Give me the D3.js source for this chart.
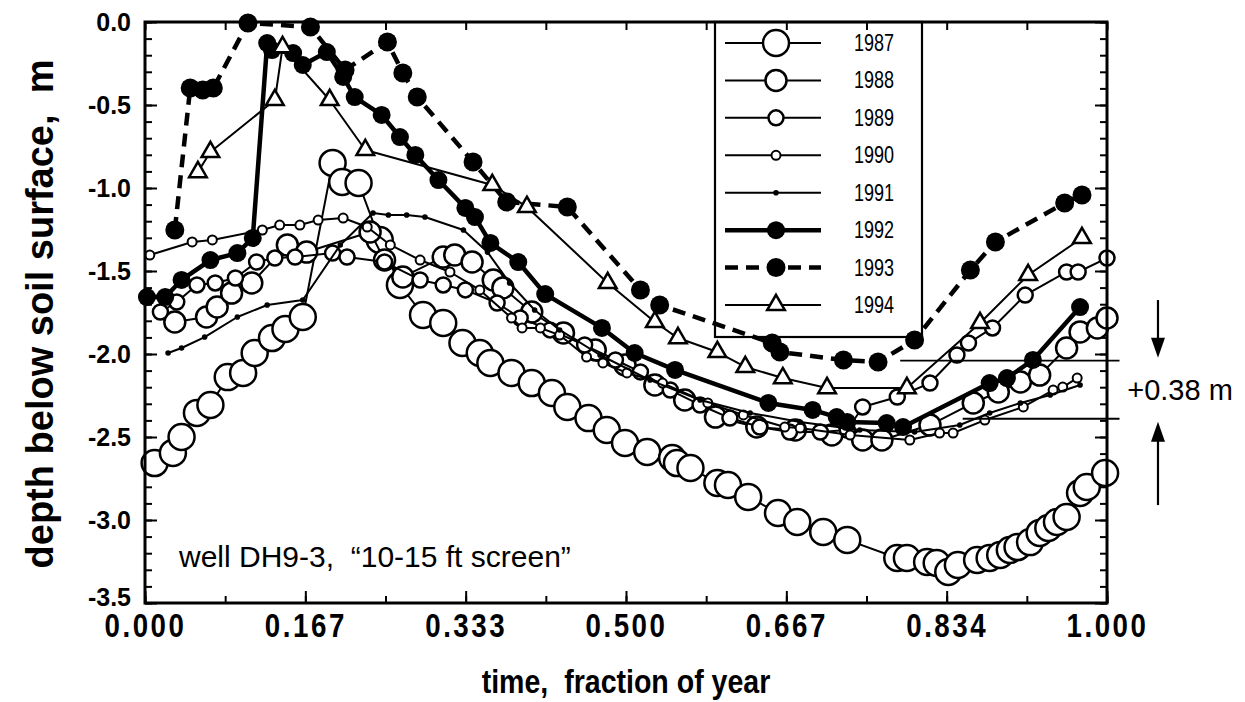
<!DOCTYPE html>
<html><head><meta charset="utf-8">
<script src="https://cdn.jsdelivr.net/npm/d3@7"></script>
<style>html,body{margin:0;padding:0;background:#fff;} svg{display:block;} text{white-space:pre;}</style>
</head><body>
<svg id="c" width="1245" height="702"></svg>
<script>
// ---------------- data ----------------
const years = ["1987","1988","1989","1990","1991","1992","1993","1994"];

const s1987 = [[0.010,-2.657],[0.029,-2.596],[0.038,-2.500],[0.054,-2.355],[0.068,-2.307],[0.086,-2.139],[0.102,-2.114],[0.114,-1.994],[0.132,-1.904],[0.146,-1.849],[0.164,-1.777],[0.195,-0.849],[0.205,-0.964],[0.222,-0.970],[0.244,-1.313],[0.265,-1.584],[0.289,-1.765],[0.310,-1.813],[0.330,-1.934],[0.348,-1.994],[0.359,-2.054],[0.381,-2.114],[0.402,-2.175],[0.423,-2.235],[0.439,-2.319],[0.461,-2.386],[0.480,-2.458],[0.499,-2.536],[0.522,-2.590],[0.548,-2.627],[0.553,-2.657],[0.567,-2.687],[0.595,-2.777],[0.606,-2.789],[0.627,-2.861],[0.658,-2.958],[0.678,-3.012],[0.705,-3.072],[0.730,-3.120],[0.782,-3.229],[0.792,-3.229],[0.813,-3.253],[0.823,-3.259],[0.835,-3.313],[0.845,-3.271],[0.865,-3.241],[0.878,-3.229],[0.889,-3.211],[0.899,-3.181],[0.907,-3.163],[0.920,-3.133],[0.930,-3.078],[0.939,-3.048],[0.948,-3.012],[0.958,-2.982],[0.972,-2.837],[0.979,-2.801],[0.998,-2.717]];

const s1988 = [[0.031,-1.807],[0.064,-1.777],[0.075,-1.717],[0.090,-1.633],[0.111,-1.572],[0.148,-1.343],[0.168,-1.386],[0.234,-1.265],[0.249,-1.434],[0.268,-1.536],[0.310,-1.416],[0.322,-1.404],[0.340,-1.446],[0.362,-1.554],[0.372,-1.602],[0.402,-1.747],[0.435,-1.873],[0.468,-1.976],[0.499,-2.066],[0.530,-2.187],[0.561,-2.277],[0.593,-2.380],[0.636,-2.440],[0.676,-2.458],[0.714,-2.488],[0.746,-2.518],[0.766,-2.518],[0.816,-2.428],[0.861,-2.295],[0.887,-2.229],[0.910,-2.169],[0.930,-2.127],[0.958,-1.964],[0.972,-1.867],[0.990,-1.843],[1.000,-1.783]];

const s1989 = [[0.016,-1.747],[0.033,-1.687],[0.054,-1.584],[0.073,-1.572],[0.094,-1.542],[0.116,-1.446],[0.135,-1.422],[0.156,-1.416],[0.195,-1.392],[0.210,-1.416],[0.249,-1.446],[0.286,-1.554],[0.310,-1.584],[0.333,-1.614],[0.366,-1.693],[0.390,-1.783],[0.421,-1.855],[0.457,-1.946],[0.489,-2.036],[0.515,-2.108],[0.546,-2.217],[0.577,-2.307],[0.608,-2.386],[0.639,-2.440],[0.670,-2.470],[0.702,-2.470],[0.730,-2.458],[0.746,-2.319],[0.782,-2.259],[0.816,-2.175],[0.844,-2.006],[0.856,-1.934],[0.881,-1.843],[0.915,-1.645],[0.958,-1.506],[0.970,-1.506],[1.000,-1.422]];

const s1990 = [[0.005,-1.404],[0.049,-1.325],[0.070,-1.313],[0.122,-1.253],[0.140,-1.223],[0.161,-1.223],[0.180,-1.193],[0.206,-1.181],[0.231,-1.235],[0.255,-1.343],[0.286,-1.434],[0.317,-1.506],[0.348,-1.614],[0.381,-1.783],[0.392,-1.843],[0.411,-1.843],[0.431,-1.886],[0.459,-2.018],[0.476,-2.054],[0.501,-2.114],[0.538,-2.175],[0.585,-2.295],[0.622,-2.367],[0.665,-2.440],[0.681,-2.446],[0.733,-2.488],[0.795,-2.518],[0.826,-2.476],[0.840,-2.476],[0.873,-2.398],[0.913,-2.319],[0.944,-2.217],[0.954,-2.199],[0.969,-2.145]];

const s1991 = [[0.024,-1.994],[0.038,-1.964],[0.062,-1.898],[0.096,-1.777],[0.127,-1.705],[0.164,-1.675],[0.203,-1.343],[0.237,-1.151],[0.253,-1.163],[0.272,-1.163],[0.291,-1.175],[0.331,-1.253],[0.356,-1.386],[0.379,-1.572],[0.405,-1.735],[0.431,-1.855],[0.473,-2.006],[0.525,-2.157],[0.577,-2.277],[0.629,-2.355],[0.681,-2.410],[0.743,-2.458],[0.800,-2.470],[0.847,-2.428],[0.878,-2.355],[0.910,-2.295],[0.941,-2.247],[0.972,-2.187]];

const s1992 = [[0.002,-1.657],[0.021,-1.657],[0.038,-1.554],[0.068,-1.434],[0.096,-1.392],[0.112,-1.301],[0.127,-0.127],[0.132,-0.169],[0.154,-0.187],[0.164,-0.259],[0.189,-0.181],[0.206,-0.331],[0.218,-0.452],[0.246,-0.560],[0.265,-0.693],[0.281,-0.801],[0.305,-0.952],[0.333,-1.120],[0.343,-1.175],[0.359,-1.331],[0.388,-1.446],[0.416,-1.639],[0.475,-1.843],[0.509,-1.994],[0.551,-2.096],[0.648,-2.295],[0.694,-2.337],[0.719,-2.380],[0.730,-2.410],[0.771,-2.416],[0.788,-2.440],[0.878,-2.175],[0.896,-2.145],[0.923,-2.036],[0.972,-1.717]];

const s1993 = [[0.031,-1.253],[0.047,-0.398],[0.060,-0.410],[0.071,-0.398],[0.107,-0.006],[0.172,-0.030],[0.208,-0.289],[0.252,-0.120],[0.268,-0.307],[0.283,-0.452],[0.341,-0.843],[0.376,-1.084],[0.439,-1.114],[0.515,-1.614],[0.535,-1.705],[0.652,-1.934],[0.660,-1.988],[0.726,-2.036],[0.762,-2.048],[0.800,-1.916],[0.858,-1.494],[0.884,-1.325],[0.956,-1.090],[0.974,-1.042]];

const s1994 = [[0.055,-0.904],[0.068,-0.783],[0.135,-0.470],[0.143,-0.151],[0.192,-0.470],[0.229,-0.771],[0.361,-0.982],[0.397,-1.114],[0.481,-1.572],[0.530,-1.807],[0.554,-1.904],[0.595,-1.988],[0.624,-2.078],[0.663,-2.145],[0.709,-2.205],[0.792,-2.205],[0.868,-1.813],[0.918,-1.524],[0.974,-1.301]];

const xTickValues = [0, 1/6, 2/6, 3/6, 4/6, 5/6, 1];
const xTickLabels = ["0.000","0.167","0.333","0.500","0.667","0.834","1.000"];
const yTickValues = [0, -0.5, -1.0, -1.5, -2.0, -2.5, -3.0, -3.5];
const yTickLabels = ["0.0","-0.5","-1.0","-1.5","-2.0","-2.5","-3.0","-3.5"];
const refLevels = [-2.04, -2.39];
const refLabel = "+0.38 m";
const xTitle = "time,  fraction of year";
const yTitle = "depth below soil surface,  m";
const note = "well DH9-3,  \u201C10-15 ft screen\u201D";

// ---------------- styles ----------------
const seriesData = [s1987,s1988,s1989,s1990,s1991,s1992,s1993,s1994];
const styles = [
  {type:"circle", r:13,  fill:"#fff", sw:2.5, lw:2,   dash:null},
  {type:"circle", r:10.5,fill:"#fff", sw:2.5, lw:2,   dash:null},
  {type:"circle", r:7.5, fill:"#fff", sw:2.5, lw:2,   dash:null},
  {type:"circle", r:4.5, fill:"#fff", sw:2,   lw:2,   dash:null},
  {type:"circle", r:2.8, fill:"#000", sw:0,   lw:2,   dash:null},
  {type:"circle", r:9,   fill:"#000", sw:0,   lw:4.5, dash:null},
  {type:"circle", r:9.5, fill:"#000", sw:0,   lw:4.5, dash:"13,8"},
  {type:"tri",    size:135, fill:"#fff", sw:2.5, lw:2, dash:null}
];

const svg = d3.select("#c");
const L = 145, R = 1107, T = 22, B = 603;
const x = d3.scaleLinear().domain([0,1]).range([L,R]);
const y = d3.scaleLinear().domain([0,-3.5]).range([T,B]);
const FONT = "'Liberation Sans', Arial, Helvetica, sans-serif";

// legend box (behind data)
const legX0 = 715, legX1 = 922, legY1 = 337;
svg.append("rect").attr("x",legX0).attr("y",T).attr("width",legX1-legX0).attr("height",legY1-T)
  .attr("fill","#fff").attr("stroke","#000").attr("stroke-width",2.2);

// axes
function styleAxis(g){ g.select(".domain").remove(); g.selectAll("line").attr("stroke","#000").attr("stroke-width",2); }
const minorX = d3.range(13).map(i=>i/12);
const minorY = d3.range(36).map(i=>-i/10);

svg.append("g").attr("transform",`translate(0,${B})`)
  .call(d3.axisBottom(x).tickValues(minorX).tickSize(-7).tickFormat("")).call(styleAxis);
const xAx = svg.append("g").attr("transform",`translate(0,${B})`)
  .call(d3.axisBottom(x).tickValues(xTickValues).tickSize(-12).tickPadding(11)
    .tickFormat((d,i)=>xTickLabels[i])).call(styleAxis);
xAx.selectAll("text").attr("font-family",FONT).attr("font-weight","bold").attr("font-size",33)
  .attr("fill","#000").attr("letter-spacing",3).attr("transform","scale(0.84,1)");

svg.append("g").attr("transform",`translate(0,${T})`)
  .call(d3.axisTop(x).tickValues(minorX).tickSize(-8).tickFormat("")).call(styleAxis);

svg.append("g").attr("transform",`translate(${L},0)`)
  .call(d3.axisLeft(y).tickValues(minorY).tickSize(-7).tickFormat("")).call(styleAxis);
const yAx = svg.append("g").attr("transform",`translate(${L},0)`)
  .call(d3.axisLeft(y).tickValues(yTickValues).tickSize(-12).tickPadding(14)
    .tickFormat((d,i)=>yTickLabels[i])).call(styleAxis);
yAx.selectAll("text").attr("font-family",FONT).attr("font-weight","bold").attr("font-size",25).attr("fill","#000")
  .attr("dy",(d,i)=> i===yTickValues.length-1 ? "0.1em" : "0.32em");

svg.append("g").attr("transform",`translate(${R},0)`)
  .call(d3.axisRight(y).tickValues(minorY).tickSize(-7).tickFormat("")).call(styleAxis);
svg.append("g").attr("transform",`translate(${R},0)`)
  .call(d3.axisRight(y).tickValues(yTickValues).tickSize(-12).tickFormat("")).call(styleAxis);

// series
const line = d3.line().x(d=>x(d[0])).y(d=>y(d[1]));
seriesData.forEach((data,i)=>{
  const st = styles[i];
  const g = svg.append("g");
  g.append("path").attr("d",line(data)).attr("fill","none").attr("stroke","#000")
    .attr("stroke-width",st.lw).attr("stroke-dasharray",st.dash).attr("stroke-linejoin","round");
  if(st.type==="circle"){
    g.selectAll("circle").data(data).join("circle")
      .attr("cx",d=>x(d[0])).attr("cy",d=>y(d[1])).attr("r",st.r)
      .attr("fill",st.fill).attr("stroke","#000").attr("stroke-width",st.sw);
  } else {
    g.selectAll("path.m").data(data).join("path").attr("class","m")
      .attr("d",d3.symbol(d3.symbolTriangle,st.size)())
      .attr("transform",d=>`translate(${x(d[0])},${y(d[1])})`)
      .attr("fill",st.fill).attr("stroke","#000").attr("stroke-width",st.sw);
  }
});

// frame
svg.append("rect").attr("x",L).attr("y",T).attr("width",R-L).attr("height",B-T)
  .attr("fill","none").attr("stroke","#000").attr("stroke-width",3);

// legend entries
const legY = d3.scalePoint().domain(years).range([43,305]);
years.forEach((yr,i)=>{
  const st = styles[i], cy = legY(yr);
  svg.append("line").attr("x1",725).attr("x2",821).attr("y1",cy).attr("y2",cy)
    .attr("stroke","#000").attr("stroke-width",st.lw).attr("stroke-dasharray",st.dash);
  if(st.type==="circle"){
    svg.append("circle").attr("cx",776).attr("cy",cy).attr("r",st.r)
      .attr("fill",st.fill).attr("stroke","#000").attr("stroke-width",st.sw);
  } else {
    svg.append("path").attr("d",d3.symbol(d3.symbolTriangle,st.size)())
      .attr("transform",`translate(776,${cy})`).attr("fill",st.fill).attr("stroke","#000").attr("stroke-width",st.sw);
  }
  svg.append("text").attr("transform",`translate(854,${cy+8}) scale(0.75,1)`)
    .attr("font-family",FONT).attr("font-size",24).text(yr);
});

// reference lines + arrows
const refStart = [0.785, 0.85];
refLevels.forEach((lv,i)=>{
  svg.append("line").attr("x1",x(refStart[i])).attr("x2",x(1.013)).attr("y1",y(lv)).attr("y2",y(lv))
    .attr("stroke","#000").attr("stroke-width",1.8);
});
const ax = x(1.053);
function arrow(yFrom, yTo){
  const dir = Math.sign(yTo-yFrom);
  svg.append("line").attr("x1",ax).attr("x2",ax).attr("y1",yFrom).attr("y2",yTo-dir*18)
    .attr("stroke","#000").attr("stroke-width",2.2);
  svg.append("path").attr("d",`M${ax-7},${yTo-dir*20} L${ax+7},${yTo-dir*20} L${ax},${yTo} Z`).attr("fill","#000");
}
arrow(y(-1.675), y(refLevels[0])-3);
arrow(y(-2.91), y(refLevels[1])+3);
svg.append("text").attr("x",1180).attr("y",(y(refLevels[0])+y(refLevels[1]))/2+10)
  .attr("text-anchor","middle").attr("font-family",FONT).attr("font-size",29).text(refLabel);

// note
svg.append("text").attr("x",179).attr("y",567).attr("font-family",FONT).attr("font-size",30).text(note);

// titles
svg.append("text").attr("transform","translate(53,314) rotate(-90)").attr("text-anchor","middle")
  .attr("font-family",FONT).attr("font-weight","bold").attr("font-size",38).text(yTitle);
svg.append("text").attr("transform","translate(626,693) scale(0.84,1)").attr("text-anchor","middle")
  .attr("font-family",FONT).attr("font-weight","bold").attr("font-size",34).text(xTitle);
</script>
</body></html>
